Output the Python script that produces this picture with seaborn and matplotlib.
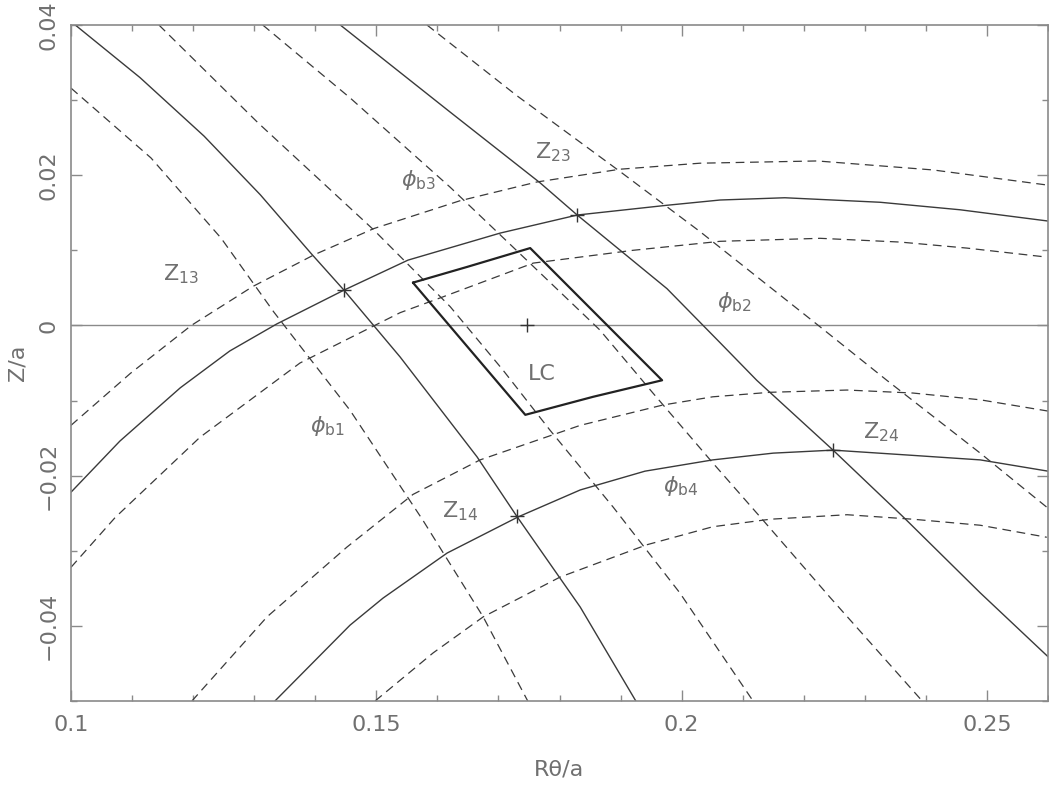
import numpy as np
import pandas as pd
import seaborn as sns
import matplotlib.pyplot as plt
from matplotlib.ticker import MultipleLocator, FixedLocator, FixedFormatter


# solid lines (two descending, two arcs)
z1_x = [0.1007, 0.1113, 0.1218, 0.1310, 0.1393, 0.1447, 0.1539, 0.1665, 0.1730, 0.1834, 0.1925]
z1_y = [0.0400, 0.0330, 0.0252, 0.0174, 0.0096, 0.0047, -0.0042, -0.0175, -0.0254, -0.0375, -0.0500]

z2_x = [0.1441, 0.1621, 0.1768, 0.1829, 0.1976, 0.2063, 0.2123, 0.2248, 0.2363, 0.2489, 0.2600]
z2_y = [0.0400, 0.0284, 0.0190, 0.0147, 0.0049, -0.0023, -0.0073, -0.0166, -0.0255, -0.0356, -0.0441]

z3_x = [0.1000, 0.1080, 0.1179, 0.1260, 0.1337, 0.1447, 0.1552, 0.1703, 0.1829, 0.1976, 0.2063, 0.2169, 0.2325, 0.2456, 0.2600]
z3_y = [-0.0222, -0.0154, -0.0083, -0.0034, 0.0002, 0.0047, 0.0087, 0.0123, 0.0147, 0.0160, 0.0167, 0.0170, 0.0164, 0.0154, 0.0139]

z4_x = [0.1334, 0.1457, 0.1511, 0.1616, 0.1732, 0.1834, 0.1940, 0.2051, 0.2150, 0.2248, 0.2379, 0.2489, 0.2600]
z4_y = [-0.0500, -0.0399, -0.0363, -0.0303, -0.0255, -0.0219, -0.0194, -0.0179, -0.0170, -0.0166, -0.0173, -0.0179, -0.0194]

# dashed lines either side of the descending solids
d1a_x = [0.1000, 0.1131, 0.1246, 0.1332, 0.1457, 0.1576, 0.1675, 0.1748]
d1a_y = [0.0316, 0.0223, 0.0116, 0.0018, -0.0113, -0.0259, -0.0388, -0.0500]

d1b_x = [0.1144, 0.1306, 0.1496, 0.1621, 0.1707, 0.1784, 0.1888, 0.1997, 0.2117]
d1b_y = [0.0400, 0.0270, 0.0127, 0.0025, -0.0059, -0.0139, -0.0242, -0.0356, -0.0500]

d2a_x = [0.1314, 0.1457, 0.1621, 0.1763, 0.1866, 0.1953, 0.2051, 0.2133, 0.2243, 0.2394]
d2a_y = [0.0400, 0.0303, 0.0184, 0.0074, -0.0006, -0.0090, -0.0183, -0.0259, -0.0362, -0.0500]

d2b_x = [0.1583, 0.1730, 0.1899, 0.2030, 0.2227, 0.2336, 0.2489, 0.2598]
d2b_y = [0.0400, 0.0306, 0.0205, 0.0125, -0.0002, -0.0073, -0.0170, -0.0242]

# dashed arcs either side of the solid arcs
d3a_x = [0.1000, 0.1097, 0.1197, 0.1298, 0.1398, 0.1496, 0.1637, 0.1763, 0.1899, 0.2030, 0.2222, 0.2412, 0.2598]
d3a_y = [-0.0133, -0.0064, 0.0000, 0.0052, 0.0094, 0.0129, 0.0166, 0.0191, 0.0208, 0.0216, 0.0219, 0.0207, 0.0187]

d3b_x = [0.1000, 0.1072, 0.1211, 0.1375, 0.1539, 0.1609, 0.1757, 0.1920, 0.2063, 0.2227, 0.2358, 0.2467, 0.2598]
d3b_y = [-0.0322, -0.0256, -0.0149, -0.0050, 0.0017, 0.0038, 0.0083, 0.0100, 0.0112, 0.0116, 0.0111, 0.0103, 0.0091]

d4a_x = [0.1198, 0.1321, 0.1452, 0.1560, 0.1670, 0.1834, 0.1969, 0.2051, 0.2145, 0.2271, 0.2379, 0.2489, 0.2600]
d4a_y = [-0.0500, -0.0388, -0.0295, -0.0225, -0.0179, -0.0133, -0.0106, -0.0095, -0.0089, -0.0086, -0.0090, -0.0099, -0.0114]

d4b_x = [0.1498, 0.1593, 0.1675, 0.1801, 0.1943, 0.2051, 0.2145, 0.2271, 0.2379, 0.2489, 0.2598]
d4b_y = [-0.0500, -0.0436, -0.0388, -0.0335, -0.0292, -0.0268, -0.0258, -0.0252, -0.0258, -0.0266, -0.0282]

# LC box and markers
box_x = [0.1560, 0.1649, 0.1752, 0.1968, 0.1855, 0.1744, 0.1560]
box_y = [0.0057, 0.0078, 0.0103, -0.0073, -0.0095, -0.0119, 0.0057]
cross_x = [0.1447, 0.1829, 0.1730, 0.2248, 0.1747]
cross_y = [0.0047, 0.0147, -0.0254, -0.0166, 0.0000]

# labels (left x, baseline y)
labels = [r'$\mathrm{Z}_{13}$', r'$\mathrm{Z}_{23}$', r'$\mathrm{Z}_{14}$', r'$\mathrm{Z}_{24}$',
          r'$\phi_{\mathrm{b}1}$', r'$\phi_{\mathrm{b}2}$', r'$\phi_{\mathrm{b}3}$', r'$\phi_{\mathrm{b}4}$', 'LC']
label_x = [0.1151, 0.1760, 0.1608, 0.2297, 0.1391, 0.2058, 0.1540, 0.1969, 0.1748]
label_y = [0.0060, 0.0223, -0.0255, -0.0150, -0.0142, 0.0023, 0.0186, -0.0222, -0.0073]

xtick_vals = [0.1, 0.15, 0.2, 0.25]
xtick_labels = ['0.1', '0.15', '0.2', '0.25']
ytick_vals = [-0.04, -0.02, 0.0, 0.02, 0.04]
ytick_labels = ['\u22120.04', '\u22120.02', '0', '0.02', '0.04']

sns.set_style('ticks')
plt.rcParams['font.family'] = ['DejaVu Sans']
plt.rcParams['mathtext.fontset'] = 'dejavusans'

fig, ax = plt.subplots(figsize=(10.49, 7.85), dpi=100)
fig.subplots_adjust(left=71/1049, right=1048/1049, bottom=1-701/785, top=1-25/785)

line_col = '#3a3a3a'
text_col = '#707070'
dash = (0, (7, 4.5))

ax.axhline(0, color='#8a8a8a', lw=1.0, zorder=1)

for xs, ys in [(z1_x, z1_y), (z2_x, z2_y), (z3_x, z3_y), (z4_x, z4_y)]:
    sns.lineplot(x=xs, y=ys, sort=False, estimator=None, ax=ax, color=line_col, linewidth=1.0)

for xs, ys in [(d1a_x, d1a_y), (d1b_x, d1b_y), (d2a_x, d2a_y), (d2b_x, d2b_y),
               (d3a_x, d3a_y), (d3b_x, d3b_y), (d4a_x, d4a_y), (d4b_x, d4b_y)]:
    sns.lineplot(x=xs, y=ys, sort=False, estimator=None, ax=ax, color=line_col,
                 linewidth=0.9, linestyle=dash)

sns.lineplot(x=box_x, y=box_y, sort=False, estimator=None, ax=ax, color='#222222', linewidth=1.6)
ax.scatter(cross_x, cross_y, marker='+', s=90, color='#333333', linewidths=1.0, zorder=5)

for t, lx, ly in zip(labels, label_x, label_y):
    ax.text(lx, ly, t, fontsize=16, color=text_col, ha='left', va='baseline')

ax.set_xlim(0.1, 0.26)
ax.set_ylim(-0.05, 0.04)
ax.xaxis.set_major_locator(FixedLocator(xtick_vals))
ax.xaxis.set_major_formatter(FixedFormatter(xtick_labels))
ax.yaxis.set_major_locator(FixedLocator(ytick_vals))
ax.yaxis.set_major_formatter(FixedFormatter(ytick_labels))
ax.xaxis.set_minor_locator(MultipleLocator(0.01))
ax.yaxis.set_minor_locator(MultipleLocator(0.01))
ax.tick_params(which='both', direction='in', top=True, right=True, color='#8a8a8a', width=1.0)
ax.tick_params(which='major', length=8)
ax.tick_params(which='minor', length=4.5)
ax.tick_params(axis='both', labelsize=16, labelcolor=text_col)
ax.tick_params(axis='x', pad=10)
ax.tick_params(axis='y', pad=9)
for lab in ax.get_yticklabels():
    lab.set_rotation(90)
    lab.set_va('center')

for s in ax.spines.values():
    s.set_color('#8a8a8a')
    s.set_linewidth(1.2)

ax.set_xlabel('R\u03b8/a', fontsize=16, color=text_col, labelpad=18)
ax.set_ylabel('Z/a', fontsize=16, color=text_col, labelpad=8)

fig.savefig('out.png', dpi=100)
